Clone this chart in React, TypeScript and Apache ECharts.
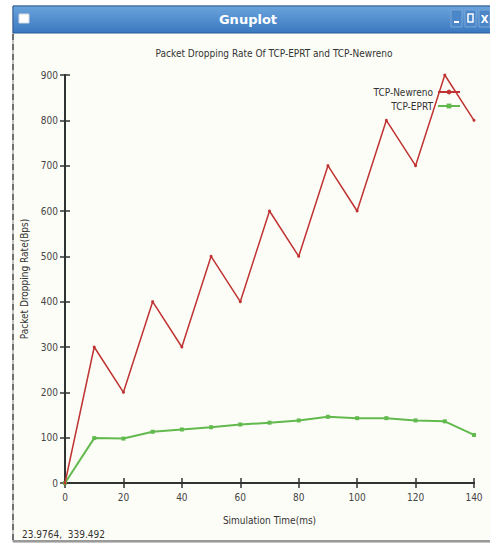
import React, { useEffect, useRef } from "react";
import * as echarts from "echarts";

const timeTicks = [0, 10, 20, 30, 40, 50, 60, 70, 80, 90, 100, 110, 120, 130, 140];
const newrenoRate = [0, 300, 200, 400, 300, 500, 400, 600, 500, 700, 600, 800, 700, 900, 800];
const eprtRate = [0, 99, 98, 113, 118, 123, 129, 133, 138, 146, 143, 143, 138, 136, 106];

const chartTitle = "Packet Dropping Rate Of TCP-EPRT and TCP-Newreno";
const xName = "Simulation Time(ms)";
const yName = "Packet Dropping Rate(Bps)";
const seriesNames = ["TCP-Newreno", "TCP-EPRT"];
const statusText = "23.9764,  339.492";
const windowTitle = "Gnuplot";

const FONT = "'DejaVu Sans Condensed', 'Liberation Sans Narrow', 'DejaVu Sans', sans-serif";

export default function App() {
  const ref = useRef<HTMLDivElement>(null);
  useEffect(() => {
    if (!ref.current) return;
    const chart = echarts.init(ref.current, undefined, { renderer: "svg" });
    const pair = (vals: number[]) => timeTicks.map((t, i) => [t, vals[i]]);
    const axisLine = { show: true, lineStyle: { color: "#2f3332", width: 2 } };
    const tick = { show: true, inside: true, length: 5, lineStyle: { color: "#2f3332", width: 1.5 } };
    const label = { color: "#444", fontFamily: FONT, fontSize: 10 };
    chart.setOption({
      animation: false,
      backgroundColor: "#ffffff",
      title: {
        text: chartTitle,
        left: 269,
        top: 43,
        textAlign: "center",
        textStyle: { fontFamily: FONT, fontSize: 10, fontWeight: "normal", color: "#333" },
      },
      legend: {
        orient: "vertical",
        right: 24,
        top: 82,
        align: "right",
        itemWidth: 22,
        itemHeight: 6,
        itemGap: 4,
        textStyle: { fontFamily: FONT, fontSize: 10, color: "#333", padding: [0, 0, 0, 0] },
        data: seriesNames,
      },
      grid: { left: 65, right: 16, top: 75, bottom: 63, show: true, backgroundColor: "#fdfdf7", borderWidth: 0 },
      xAxis: [
        {
          type: "value",
          min: 0,
          max: 140,
          interval: 20,
          name: xName,
          nameLocation: "middle",
          nameGap: 32,
          nameTextStyle: { fontFamily: FONT, fontSize: 10, color: "#333" },
          axisLine,
          axisTick: tick,
          axisLabel: { ...label, margin: 9 },
          splitLine: { show: false },
        },
        {
          type: "value",
          position: "top",
          min: 0,
          max: 140,
          interval: 20,
          axisLine,
          axisTick: tick,
          axisLabel: { show: false },
          splitLine: { show: false },
        },
      ],
      yAxis: [
        {
          type: "value",
          min: 0,
          max: 900,
          interval: 100,
          name: yName,
          nameLocation: "middle",
          nameGap: 28,
          nameTextStyle: { fontFamily: FONT, fontSize: 10, color: "#333" },
          axisLine,
          axisTick: tick,
          axisLabel: { ...label, margin: 7 },
          splitLine: { show: false },
        },
        {
          type: "value",
          position: "right",
          min: 0,
          max: 900,
          interval: 100,
          axisLine,
          axisTick: tick,
          axisLabel: { show: false },
          splitLine: { show: false },
        },
      ],
      series: [
        {
          name: seriesNames[0],
          type: "line",
          data: pair(newrenoRate),
          symbol: "circle",
          symbolSize: 3,
          showSymbol: true,
          lineStyle: { color: "#bf3333", width: 1.5 },
          itemStyle: { color: "#bf3333" },
          z: 3,
        },
        {
          name: seriesNames[1],
          type: "line",
          data: pair(eprtRate),
          symbol: "rect",
          symbolSize: 4,
          showSymbol: true,
          lineStyle: { color: "#62ba4e", width: 2 },
          itemStyle: { color: "#62ba4e" },
          z: 2,
        },
      ],
      graphic: [
        { type: "rect", z: -10, shape: { x: 0, y: 0, width: 490, height: 546 }, style: { fill: "#ffffff" } },
        { type: "rect", z: -9, shape: { x: 13, y: 6, width: 485, height: 536 }, style: { fill: "#fdfdf7", stroke: "#8a8a8a", lineWidth: 1 } },
        { type: "line", z: 5, shape: { x1: 13, y1: 34, x2: 13, y2: 541 }, style: { stroke: "#555", lineWidth: 1.5, lineDash: [6, 4] } },
        { type: "line", z: 5, shape: { x1: 13, y1: 541, x2: 490, y2: 541 }, style: { stroke: "#9a9a9a", lineWidth: 2 } },
        {
          type: "rect",
          z: 5,
          shape: { x: 13, y: 6, width: 485, height: 27 },
          style: {
            fill: new echarts.graphic.LinearGradient(0, 0, 0, 1, [
              { offset: 0, color: "#6aa4dc" },
              { offset: 1, color: "#3a78c0" },
            ]),
            stroke: "#2b5d9a",
            lineWidth: 1,
          },
        },
        { type: "rect", z: 6, shape: { x: 19, y: 14, width: 10, height: 9 }, style: { fill: "#ffffff", stroke: "#d0d8e0", lineWidth: 1 } },
        {
          type: "text",
          z: 6,
          x: 248,
          y: 19.5,
          style: { text: windowTitle, fill: "#ffffff", font: "bold 13px 'DejaVu Sans', sans-serif", align: "center", verticalAlign: "middle" },
        },
        { type: "rect", z: 6, shape: { x: 451, y: 10, width: 11, height: 17 }, style: { fill: "#4a86c8", stroke: "#7aa6d6", lineWidth: 1 } },
        { type: "rect", z: 6, shape: { x: 465, y: 10, width: 11, height: 17 }, style: { fill: "#4a86c8", stroke: "#7aa6d6", lineWidth: 1 } },
        { type: "rect", z: 6, shape: { x: 479, y: 10, width: 11, height: 17 }, style: { fill: "#4a86c8", stroke: "#7aa6d6", lineWidth: 1 } },
        { type: "rect", z: 7, shape: { x: 454, y: 21, width: 5, height: 2 }, style: { fill: "#ffffff" } },
        { type: "rect", z: 7, shape: { x: 468, y: 14, width: 5, height: 8 }, style: { fill: "none", stroke: "#ffffff", lineWidth: 1.5 } },
        {
          type: "text",
          z: 7,
          x: 484.5,
          y: 19,
          style: { text: "X", fill: "#ffffff", font: "bold 10px 'DejaVu Sans', sans-serif", align: "center", verticalAlign: "middle" },
        },
        {
          type: "text",
          z: 6,
          x: 22,
          y: 534,
          style: { text: statusText, fill: "#333", font: `10px ${FONT}`, align: "left", verticalAlign: "middle" },
        },
      ],
    });
    return () => chart.dispose();
  }, []);
  return (
    <div
      ref={ref}
      style={{ position: "fixed", left: 0, top: 0, width: 490, height: 546 }}
    />
  );
}
